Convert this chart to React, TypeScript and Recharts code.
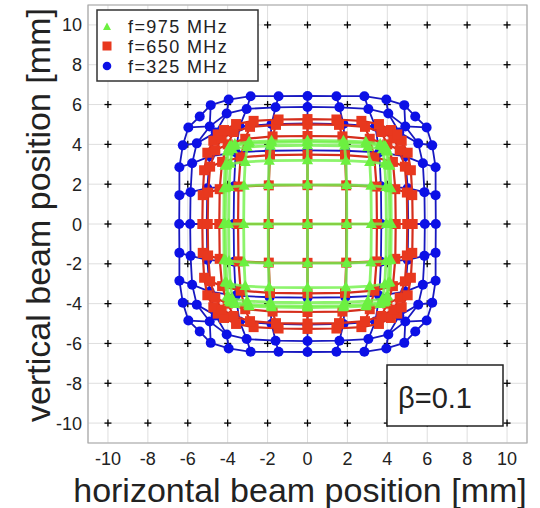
import { ScatterChart, Scatter, XAxis, YAxis, CartesianGrid, ReferenceArea } from "recharts"

// nominal (true) beam positions, mm
const gridPos = [-10, -8, -6, -4, -2, 0, 2, 4, 6, 8, 10]
const axisTicks = [-10, -8, -6, -4, -2, 0, 2, 4, 6, 8, 10]

// reconstructed |position| for the quadrant x>=0, y>=0
// row index = nominal |y|/2, column index = nominal |x|/2
// (the maps are symmetric, the other quadrants are mirrored)
const blue325 = [
    [0, 1.95, 3.7, 5.05, 5.88, 6.43],
    [0, 1.95, 3.68, 5.02, 5.86, 6.42],
    [0, 1.9, 3.6, 4.9, 5.78, 6.42],
    [0, 1.8, 3.4, 4.6, 5.55, 6.25],
    [0, 1.6, 3.05, 4.05, 4.9, 5.97],
    [0, 1.45, 2.85, 3.95, 4.85, 5.4],
]
const red650 = [
    [0, 1.95, 3.48, 4.42, 5.0, 5.27],
    [0, 1.94, 3.46, 4.4, 4.98, 5.25],
    [0, 1.88, 3.35, 4.28, 4.88, 5.18],
    [0, 1.75, 3.12, 4.0, 4.62, 5.02],
    [0, 1.58, 2.88, 3.7, 4.3, 4.72],
    [0, 1.45, 2.7, 3.58, 4.18, 4.5],
]
const green975 = [
    [0, 1.97, 3.2, 3.95, 4.12, 4.2],
    [0, 1.96, 3.18, 3.93, 4.1, 4.18],
    [0, 1.92, 3.12, 3.87, 4.05, 4.13],
    [0, 1.86, 3.02, 3.76, 3.94, 4.02],
    [0, 1.82, 2.95, 3.68, 3.86, 3.94],
    [0, 1.8, 2.92, 3.64, 3.82, 3.9],
]

const FONT = "'Liberation Sans', Arial, Helvetica, sans-serif"

function buildGrid(q: number[][]) {
    const pt = (xi: number, yi: number) => {
        const i = Math.abs(xi) / 2
        const j = Math.abs(yi) / 2
        return { x: Math.sign(xi) * q[j][i], y: Math.sign(yi) * q[i][j] }
    }
    const rows = gridPos.map((yi) => gridPos.map((xi) => pt(xi, yi)))
    const cols = gridPos.map((xi) => gridPos.map((yi) => pt(xi, yi)))
    return { rows, cols, all: rows.flat() }
}

const crosses = gridPos.flatMap((y) => gridPos.map((x) => ({ x, y })))

// drawing order: blue under red, green on top
const series = [
    { key: "blue", grid: buildGrid(blue325), line: "#1818c0", width: 1.8, opacity: 1, marker: "circle", fill: "#0c10e6" },
    { key: "red", grid: buildGrid(red650), line: "#d52e1c", width: 2.2, opacity: 1, marker: "square", fill: "#e8381e" },
    { key: "green", grid: buildGrid(green975), line: "#74f24c", width: 2.8, opacity: 0.82, marker: "triangle", fill: "#6cf040" },
]

const Nothing = () => <g />

const Marker = ({ cx, cy, kind, fill }: any) => {
    if (kind === "circle") return <circle cx={cx} cy={cy} r={5} fill={fill} />
    if (kind === "square") return <rect x={cx - 5} y={cy - 5} width={10} height={10} fill={fill} />
    return <polygon points={`${cx},${cy - 6} ${cx - 5.6},${cy + 4} ${cx + 5.6},${cy + 4}`} fill={fill} />
}

const Cross = ({ cx, cy }: any) => (
    <g stroke="#000" strokeWidth={1.3}>
        <line x1={cx - 3.5} y1={cy} x2={cx + 3.5} y2={cy} />
        <line x1={cx} y1={cy - 3.5} x2={cx} y2={cy + 3.5} />
    </g>
)

const XTick = ({ x, payload }: any) => (
    <text x={x} y={465} textAnchor="middle" fontSize={18} fill="#222" fontFamily={FONT}>
        {payload.value}
    </text>
)

const YTick = ({ y, payload }: any) => (
    <text x={82} y={y + 6.5} textAnchor="end" fontSize={18} fill="#222" fontFamily={FONT}>
        {payload.value}
    </text>
)

export default function App() {
    return (
        <div style={{ position: "absolute", left: 0, top: 0, width: 540, height: 508, background: "#fff" }}>
            <ScatterChart width={540} height={508} margin={{ top: 5, right: 13, bottom: 0, left: 0 }}>
                <CartesianGrid stroke="#dedede" strokeWidth={1} />
                <XAxis type="number" dataKey="x" domain={[-11, 11]} ticks={axisTicks} height={65}
                       axisLine={false} tickLine={false} tick={<XTick />} allowDataOverflow />
                <YAxis type="number" dataKey="y" domain={[-11, 11]} ticks={axisTicks} width={88}
                       axisLine={false} tickLine={false} tick={<YTick />} allowDataOverflow />
                <ReferenceArea x1={-11} x2={11} y1={-11} y2={11} fill="none" stroke="#a8a8a8" strokeWidth={1.2} ifOverflow="visible" />
                <Scatter data={crosses} shape={(p: any) => <Cross cx={p.cx} cy={p.cy} />} isAnimationActive={false} />
                {series.flatMap((s) => [
                    ...s.grid.rows.map((pts, i) => (
                        <Scatter key={`${s.key}-r${i}`} data={pts} shape={<Nothing />} isAnimationActive={false}
                                 line={{ stroke: s.line, strokeWidth: s.width, strokeOpacity: s.opacity }} />
                    )),
                    ...s.grid.cols.map((pts, i) => (
                        <Scatter key={`${s.key}-c${i}`} data={pts} shape={<Nothing />} isAnimationActive={false}
                                 line={{ stroke: s.line, strokeWidth: s.width, strokeOpacity: s.opacity }} />
                    )),
                    <Scatter key={`${s.key}-m`} data={s.grid.all} isAnimationActive={false}
                             shape={(p: any) => <Marker cx={p.cx} cy={p.cy} kind={s.marker} fill={s.fill} />} />,
                ])}
            </ScatterChart>

            <svg width={540} height={508} style={{ position: "absolute", left: 0, top: 0, pointerEvents: "none" }}>
                {/* legend */}
                <rect x={97} y={10} width={161} height={71} fill="#fff" stroke="#333" strokeWidth={1.5} />
                <polygon points="107,22.5 103,30 111,30" fill="#6cf040" />
                <rect x={102.5} y={41.5} width={9} height={9} fill="#e8381e" />
                <circle cx={107} cy={66} r={4.3} fill="#0c10e6" />
                <g fontFamily={FONT} fontSize={18} fill="#222" letterSpacing={1.4}>
                    <text x={128} y={33}>f=975 MHz</text>
                    <text x={128} y={52.5}>f=650 MHz</text>
                    <text x={128} y={72.5}>f=325 MHz</text>
                </g>

                {/* beta box */}
                <rect x={387} y={365} width={116} height={61} fill="#fff" stroke="#222" strokeWidth={1.5} />
                <text x={435} y={408} textAnchor="middle" fontSize={29} fill="#222" fontFamily={FONT}>β=0.1</text>

                {/* axis titles */}
                <text x={300} y={502} textAnchor="middle" fontSize={34} fill="#222" fontFamily={FONT}>
                    horizontal beam position [mm]
                </text>
                <text transform="translate(50,215) rotate(-90)" textAnchor="middle" fontSize={34} fill="#222" fontFamily={FONT}>
                    vertical beam position [mm]
                </text>
            </svg>
        </div>
    )
}
